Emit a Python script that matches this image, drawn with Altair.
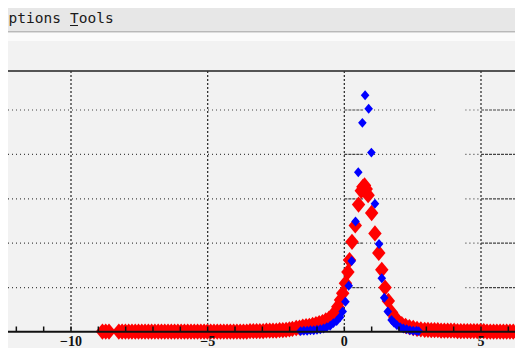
import altair as alt
import pandas as pd

# ---------------- data ----------------
blue_x = [-1.60, -1.48, -1.36, -1.24, -1.12, -1.00, -0.88, -0.76, -0.64, -0.52,
          -0.40, -0.28, -0.16, -0.06, 0.04, 0.16, 0.27, 0.41, 0.51, 0.66,
          0.76, 0.89, 0.99, 1.12, 1.27, 1.37, 1.46, 1.59, 1.73, 1.82,
          1.92, 2.04, 2.16, 2.28, 2.40, 2.52, 2.64, 2.72]
blue_y = [0.02, 0.03, 0.03, 0.04, 0.04, 0.05, 0.06, 0.08, 0.11, 0.14,
          0.20, 0.25, 0.33, 0.46, 0.68, 1.04, 1.60, 2.49, 3.60, 4.71,
          5.33, 5.03, 4.04, 2.89, 1.98, 1.21, 0.77, 0.46, 0.27, 0.21,
          0.16, 0.11, 0.08, 0.06, 0.04, 0.03, 0.03, 0.02]

red_x = [-8.85, -8.73, -8.61,
         -8.25, -8.13, -8.01, -7.89, -7.77, -7.65, -7.53, -7.41, -7.29, -7.17,
         -7.05, -6.93, -6.81, -6.69, -6.57, -6.45, -6.33, -6.21, -6.09, -5.97,
         -5.85, -5.73, -5.61, -5.49, -5.37, -5.25, -5.13, -5.01, -4.89, -4.77,
         -4.65, -4.53, -4.41, -4.29, -4.17, -4.05, -3.93, -3.81, -3.69, -3.57,
         -3.45, -3.33, -3.21, -3.09, -2.97, -2.85, -2.73, -2.61, -2.49, -2.37,
         -2.25, -2.13, -2.01,
         -1.90, -1.76, -1.64, -1.52, -1.40, -1.28, -1.16, -1.04, -0.92, -0.80,
         -0.68, -0.56, -0.44, -0.34, -0.24, -0.14, -0.06, 0.04, 0.13, 0.19,
         0.28, 0.40, 0.52, 0.62, 0.68, 0.74, 0.80, 0.87, 1.00, 1.12,
         1.26, 1.37, 1.49, 1.61, 1.73, 1.85, 1.96, 2.10, 2.24, 2.38,
         2.52, 2.66, 2.80,
         2.94, 3.06, 3.18, 3.30, 3.42, 3.54, 3.66, 3.78, 3.90, 4.02,
         4.14, 4.26, 4.38, 4.50, 4.62, 4.74, 4.86, 4.98, 5.10,
         5.22, 5.34, 5.46, 5.58, 5.70, 5.82, 5.94, 6.06, 6.18, 6.30]
red_y = [0.01, 0.01, 0.01,
         0.01, 0.01, 0.01, 0.01, 0.01, 0.01, 0.01, 0.01, 0.01, 0.01,
         0.01, 0.01, 0.01, 0.01, 0.01, 0.01, 0.01, 0.01, 0.01, 0.01,
         0.01, 0.01, 0.01, 0.01, 0.01, 0.01, 0.01, 0.01, 0.01, 0.01,
         0.01, 0.01, 0.01, 0.01, 0.01, 0.01, 0.01, 0.01, 0.01, 0.01,
         0.02, 0.02, 0.02, 0.02, 0.02, 0.03, 0.03, 0.03, 0.03, 0.04,
         0.04, 0.05, 0.06,
         0.07, 0.09, 0.10, 0.12, 0.13, 0.14, 0.16, 0.18, 0.20, 0.22,
         0.26, 0.30, 0.36, 0.45, 0.57, 0.72, 0.87, 1.10, 1.35, 1.62,
         2.03, 2.40, 2.87, 3.18, 3.27, 3.30, 3.22, 3.08, 2.68, 2.22,
         1.78, 1.40, 1.00, 0.70, 0.44, 0.32, 0.25, 0.18, 0.14, 0.11,
         0.09, 0.07, 0.06,
         0.05, 0.05, 0.04, 0.04, 0.04, 0.03, 0.03, 0.03, 0.03, 0.03,
         0.02, 0.02, 0.02, 0.02, 0.02, 0.02, 0.02, 0.02, 0.02,
         0.01, 0.01, 0.01, 0.01, 0.01, 0.01, 0.01, 0.01, 0.01, 0.01]

tick_x = [-12, -11, -10, -9, -8, -7, -6, -5, -4, -3, -2, -1, 0, 1, 2, 3, 4, 5, 6]
label_x = [-10, -5, 0, 5]
label_text = ["\u221210", "\u22125", "0", "5"]
grid_x = [-10, -5, 0, 5]
grid_y = [1, 2, 3, 4, 5]

# page pixel = chart pixel + 8 (body margin); chart spans page 8..515 x 8..348
X_DOMAIN = [-12.305, 6.244]
Y_DOMAIN = [0, 5.878]
W, H = 507, 261
PAD_TOP, PAD_BOTTOM = 63, 16

# segments of the horizontal grid (gap where a hidden box sits)
dot_segments = [(X_DOMAIN[0], 0.0), (0.65, 3.33), (4.43, 5.0)]
dense_segments = [(0.0, 0.65), (5.0, X_DOMAIN[1])]

xs = alt.Scale(domain=X_DOMAIN, nice=False, zero=False)
ys = alt.Scale(domain=Y_DOMAIN, nice=False, zero=False)

blue_df = pd.DataFrame({"x": blue_x, "y": blue_y})
red_df = pd.DataFrame({"x": red_x, "y": red_y})
tick_df = pd.DataFrame({"x": tick_x})
lab_df = pd.DataFrame({"x": label_x, "t": label_text})
vgrid_df = pd.DataFrame({"x": grid_x})
hdot_df = pd.DataFrame([{"y": g, "x": a, "x2": b} for g in grid_y for a, b in dot_segments])
hdense_df = pd.DataFrame([{"y": g, "x": a, "x2": b} for g in grid_y for a, b in dense_segments])
one = pd.DataFrame({"k": [0]})

RED_DIAMOND = "M0,-1.15L0.95,0L0,1.15L-0.95,0Z"
BLUE_DIAMOND = "M0,-1.1L0.95,0L0,1.1L-0.95,0Z"

# ---------------- decorations (menu bar) ----------------
menu_bg = alt.Chart(one).mark_rect(color="#e7e7e7").encode(
    x=alt.value(-10), x2=alt.value(W + 10), y=alt.value(-75), y2=alt.value(-39))
menu_line = alt.Chart(one).mark_rule(color="#8a8a8a", strokeWidth=1).encode(
    x=alt.value(-10), x2=alt.value(W + 10), y=alt.value(-39))
menu_light = alt.Chart(one).mark_rect(color="#fbfbfb").encode(
    x=alt.value(-10), x2=alt.value(W + 10), y=alt.value(-38.5), y2=alt.value(-30))
menu_opt = alt.Chart(one).mark_text(
    align="left", baseline="alphabetic", font="DejaVu Sans Mono", fontSize=14.5,
    color="#1a1a1a").encode(x=alt.value(0.5), y=alt.value(-48), text=alt.value("ptions"))
menu_tools = alt.Chart(one).mark_text(
    align="left", baseline="alphabetic", font="DejaVu Sans Mono", fontSize=14.5,
    color="#1a1a1a").encode(x=alt.value(62), y=alt.value(-48), text=alt.value("Tools"))
menu_ul = alt.Chart(one).mark_rule(color="#1a1a1a", strokeWidth=1).encode(
    x=alt.value(62), x2=alt.value(70), y=alt.value(-45.5))

# ---------------- frame / grid / axis ----------------
frame_top = alt.Chart(one).mark_rule(color="#555555", strokeWidth=2).encode(
    x=alt.value(0), x2=alt.value(W), y=alt.value(0))

vgrid = alt.Chart(vgrid_df).mark_rule(color="#333333", strokeWidth=1.3, strokeDash=[2, 2]).encode(
    x=alt.X("x:Q", scale=xs, axis=None), y=alt.value(0), y2=alt.value(H))
hgrid_dot = alt.Chart(hdot_df).mark_rule(color="#444444", strokeWidth=1.2, strokeDash=[1, 3]).encode(
    x=alt.X("x:Q", scale=xs, axis=None), x2="x2:Q", y=alt.Y("y:Q", scale=ys, axis=None))
hgrid_dense = alt.Chart(hdense_df).mark_rule(color="#444444", strokeWidth=1.2, strokeDash=[3, 1]).encode(
    x=alt.X("x:Q", scale=xs, axis=None), x2="x2:Q", y=alt.Y("y:Q", scale=ys, axis=None))

axis_line = alt.Chart(one).mark_rule(color="#111111", strokeWidth=2).encode(
    x=alt.value(0), x2=alt.value(W), y=alt.value(H - 0.3))
ticks = alt.Chart(tick_df).mark_rule(color="#111111", strokeWidth=1.5).encode(
    x=alt.X("x:Q", scale=xs, axis=None), y=alt.value(H), y2=alt.value(H - 5.5))
labels = alt.Chart(lab_df).mark_text(
    font="Liberation Serif", fontWeight="bold", fontSize=14, color="#111111",
    baseline="alphabetic", align="center").encode(
    x=alt.X("x:Q", scale=xs, axis=None), y=alt.value(H + 13.8), text="t:N")

# ---------------- data marks ----------------
red = alt.Chart(red_df).mark_point(shape=RED_DIAMOND, filled=True, size=200, color="#ff0000",
                                   opacity=1, clip=False).encode(
    x=alt.X("x:Q", scale=xs, axis=None), y=alt.Y("y:Q", scale=ys, axis=None))
blue = alt.Chart(blue_df).mark_point(shape=BLUE_DIAMOND, filled=True, size=82, color="#0000ff",
                                     opacity=1, clip=False).encode(
    x=alt.X("x:Q", scale=xs, axis=None), y=alt.Y("y:Q", scale=ys, axis=None))

chart = alt.layer(
    menu_bg, menu_line, menu_light, menu_opt, menu_tools, menu_ul,
    frame_top, vgrid, hgrid_dot, hgrid_dense,
    red, blue, axis_line, ticks, labels
).properties(
    width=W, height=H,
    autosize="none",
    padding={"left": 0, "top": PAD_TOP, "right": 0, "bottom": PAD_BOTTOM},
    background="#f2f2f2",
).configure_view(stroke=None)

chart.save("out.html", embed_options={"renderer": "svg", "actions": False})
